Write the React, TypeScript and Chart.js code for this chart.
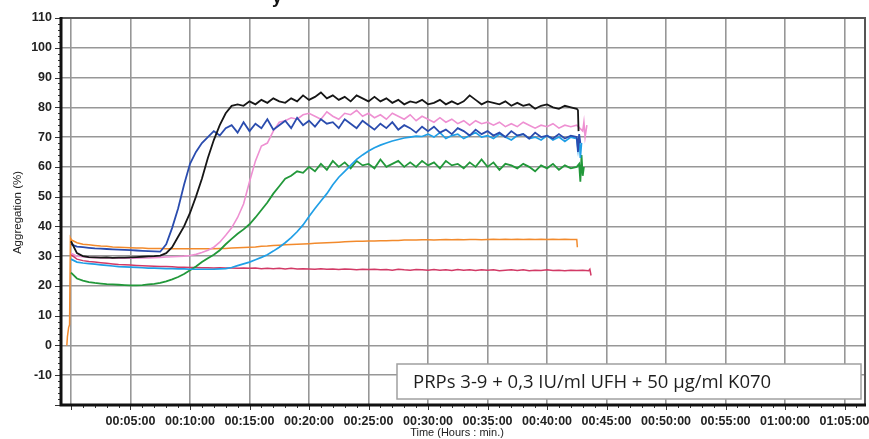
import React, { useEffect, useRef } from "react";
import { Chart, registerables } from "chart.js";

Chart.register(...registerables);

// time grid in minutes
const gridTimes = [
  0, 0.5, 1, 1.5, 2, 2.5, 3, 3.5, 4, 4.5,
  5, 5.5, 6, 6.5, 7, 7.5, 8, 8.5, 9, 9.5,
  10, 10.5, 11, 11.5, 12, 12.5, 13, 13.5, 14, 14.5,
  15, 15.5, 16, 16.5, 17, 17.5, 18, 18.5, 19, 19.5,
  20, 20.5, 21, 21.5, 22, 22.5, 23, 23.5, 24, 24.5,
  25, 25.5, 26, 26.5, 27, 27.5, 28, 28.5, 29, 29.5,
  30, 30.5, 31, 31.5, 32, 32.5, 33, 33.5, 34, 34.5,
  35, 35.5, 36, 36.5, 37, 37.5, 38, 38.5, 39, 39.5,
  40, 40.5, 41, 41.5, 42, 42.5,
];

const blackValues = [
  35, 31, 30, 29.7, 29.6, 29.5, 29.6, 29.4, 29.5, 29.5,
  29.6, 29.7, 29.8, 29.9, 30, 30.2, 31, 33, 36.5, 40,
  44.5, 50, 56, 63, 69, 74, 78, 80.5, 81, 80.5,
  82, 81, 82.5, 81.5, 83, 82, 81.5, 83, 82, 84,
  82.5, 83.5, 85, 83, 84, 82.5, 83.5, 82, 84, 83,
  82, 83.5, 82, 83, 81.5, 82.5, 81, 82, 81.5, 82.5,
  81, 81.5, 82.5, 81, 82, 81, 82, 84, 82.5, 81,
  82, 81.5, 81, 82, 80.5, 81.5, 80.5, 81, 79.5, 80.5,
  81, 80, 79.5, 80.5, 80, 79.5,
];
const blackTailTimes = [42.6, 42.65];
const blackTailValues = [79, 72];

const blueValues = [
  34, 33.2, 33, 32.8, 32.6, 32.5, 32.4, 32.3, 32.2, 32.1,
  32, 31.9, 31.8, 31.7, 31.6, 31.5, 34, 39.5, 46, 54,
  61, 65, 68, 70, 72, 70.5, 73, 74, 71.5, 75,
  72, 74.5, 73, 76, 72.5, 74, 75.5, 73, 76.5, 74,
  75.5, 73.5, 76, 74.5, 75, 73, 76, 74.5, 73, 75.5,
  74, 72.5, 74.5, 73, 75, 72.5, 74, 73, 71.5, 73.5,
  72, 73.5, 71.5, 72.5, 71, 73, 72, 70.5, 72.5, 71,
  72, 70.5, 71.5, 70, 72, 70.5, 71, 69.5, 71.5, 70,
  70.5, 69.5, 71, 69.5, 70.5, 70,
];
const blueTailTimes = [42.6, 42.7, 42.8];
const blueTailValues = [65, 71, 68];

const pinkValues = [
  31, 30, 29.8, 29.6, 29.5, 29.5, 29.4, 29.4, 29.3, 29.3,
  29.3, 29.3, 29.4, 29.4, 29.5, 29.6, 29.7, 29.8, 29.9, 30,
  30.2, 30.6, 31.2, 32, 33, 34.7, 37, 39.5, 43, 47.5,
  55, 62, 67, 68, 72, 75, 75.5, 76.5, 76, 77.5,
  78, 77, 76, 78.5, 77, 76, 78, 77.5, 79, 77,
  78, 76.5, 77.5, 76, 78, 77, 76, 77.5, 75.5, 77,
  76, 75, 76.5, 75, 76, 74.5, 75.5, 74, 75.5, 74.5,
  75, 74, 75, 73.5, 74.5, 73.5, 75, 74, 73, 74,
  73.5, 74.5, 73, 74, 73.5, 74,
];
const pinkTailTimes = [43, 43.1, 43.2, 43.35];
const pinkTailValues = [72, 75, 70, 74];

const cyanValues = [
  29, 28, 27.7, 27.5, 27.3, 27.1, 26.9, 26.7, 26.5, 26.4,
  26.3, 26.2, 26.1, 26, 26, 25.9, 25.8, 25.8, 25.7, 25.7,
  25.6, 25.6, 25.6, 25.6, 25.6, 25.7, 25.8, 26.2, 26.8, 27.4,
  28, 28.8, 29.6, 30.5, 31.7, 33, 34.5, 36.2, 38.2, 40.5,
  43.3, 46, 48.5, 51, 54, 56.5, 58.5, 60.5, 62.5, 64,
  65.3, 66.4, 67.3, 68, 68.7, 69.2, 69.7, 70, 70.3, 70.2,
  71, 70, 71.5, 69.5, 70.5, 71, 69.5, 70.5, 71.5, 70,
  70.5, 69.5, 71, 70, 69, 70.5, 71, 69.5, 70, 69,
  70.5, 69, 70, 68.5, 70, 69.5,
];
const cyanTailTimes = [42.6, 42.7, 42.8, 42.9];
const cyanTailValues = [66, 70, 63, 68];

const greenValues = [
  24.5, 22.5, 21.8, 21.3, 21, 20.8, 20.6, 20.5, 20.4, 20.3,
  20.2, 20.2, 20.3, 20.5, 20.7, 21, 21.5, 22.2, 23, 24,
  25.3, 26.5, 28, 29.3, 30.5, 32, 34, 35.8, 37.5, 39,
  40.7, 43, 45.5, 48, 51, 53.5, 56, 57, 58.5, 58,
  60, 58.5, 61, 59, 62, 60, 61.5, 59.5, 62, 60.5,
  61, 59.5, 62.5, 60, 61, 62, 60, 61.5, 60, 62,
  60.5, 61.5, 59.5, 62, 60.5, 61, 59.5, 61.5, 60, 62.5,
  60, 61.5, 59, 61, 60.5, 59.5, 61, 60, 58.5, 60.5,
  59.5, 61, 59, 60.5, 59.5, 60,
];
const greenTailTimes = [42.7, 42.8, 42.9, 43.0, 43.1];
const greenTailValues = [61, 55, 64, 57, 60];

const orangeHeadTimes = [-0.35, -0.3, -0.2, -0.12, -0.05];
const orangeHeadValues = [0, 3, 6, 7, 36];
const orangeValues = [
  35.5, 34.5, 34, 33.8, 33.6, 33.4, 33.3, 33.1, 33, 32.9,
  32.8, 32.7, 32.7, 32.6, 32.6, 32.6, 32.5, 32.5, 32.5, 32.5,
  32.5, 32.5, 32.5, 32.5, 32.5, 32.6, 32.6, 32.7, 32.8, 32.9,
  33, 33.1, 33.3, 33.4, 33.6, 33.7, 33.8, 33.9, 34, 34.1,
  34.2, 34.3, 34.4, 34.5, 34.6, 34.7, 34.8, 34.9, 35, 35,
  35.1, 35.1, 35.2, 35.2, 35.3, 35.3, 35.4, 35.4, 35.4, 35.5,
  35.5, 35.4, 35.5, 35.6, 35.5, 35.6, 35.5, 35.6, 35.6, 35.5,
  35.6, 35.7, 35.6, 35.7, 35.6, 35.7, 35.6, 35.7, 35.6, 35.7,
  35.6, 35.7, 35.6, 35.7, 35.6, 35.6,
];
const orangeTailTimes = [42.55];
const orangeTailValues = [33];

const redValues = [
  30.5, 29, 28.5, 28.2, 28, 27.8, 27.6, 27.4, 27.2, 27.1,
  27, 26.9, 26.8, 26.7, 26.6, 26.5, 26.5, 26.4, 26.3, 26.3,
  26.2, 26.2, 26.1, 26.1, 26, 26.1, 26, 26, 25.9, 26,
  25.9, 26, 25.8, 25.9, 25.8, 25.9, 25.7, 25.9, 25.7, 25.8,
  25.7, 25.6, 25.8, 25.6, 25.7, 25.5, 25.7, 25.6, 25.4, 25.6,
  25.5, 25.6, 25.4, 25.5, 25.3, 25.6, 25.4, 25.3, 25.5, 25.4,
  25.3, 25.5, 25.3, 25.4, 25.2, 25.5, 25.3, 25.4, 25.2, 25.4,
  25.3, 25.4, 25.1, 25.3, 25.4, 25.2, 25.4, 25.1, 25.3, 25.2,
  25.4, 25.2, 25.3, 25.1, 25.3, 25.2,
];
const redTailTimes = [43, 43.5, 43.6, 43.7];
const redTailValues = [25.3, 25.1, 25.6, 23.5];

const xTickMinutes = [0, 5, 10, 15, 20, 25, 30, 35, 40, 45, 50, 55, 60, 65];
const yTickValues = [-20, -10, 0, 10, 20, 30, 40, 50, 60, 70, 80, 90, 100, 110];

const legendText = "PRPs 3-9 + 0,3 IU/ml UFH + 50 µg/ml K070";
const yTitle = "Aggregation (%)";
const xTitle = "Time (Hours : min.)";

const X_MIN = -0.84;
const X_MAX = 66.72;
const Y_MIN = -20;
const Y_MAX = 110;

function fmtTime(m: number): string {
  if (m === 0) return "";
  const h = Math.floor(m / 60);
  const mm = m % 60;
  return `${String(h).padStart(2, "0")}:${String(mm).padStart(2, "0")}:00`;
}

function buildPoints(
  times: number[],
  values: number[],
  headT: number[] = [],
  headV: number[] = [],
  tailT: number[] = [],
  tailV: number[] = []
) {
  const pts: { x: number; y: number }[] = [];
  headT.forEach((t, i) => pts.push({ x: t, y: headV[i] }));
  const n = Math.min(times.length, values.length);
  for (let i = 0; i < n; i++) pts.push({ x: times[i], y: values[i] });
  tailT.forEach((t, i) => pts.push({ x: t, y: tailV[i] }));
  return pts;
}

const decorPlugin = {
  id: "decor",
  afterDatasetsDraw(chart: any) {
    const { ctx, chartArea, scales } = chart;
    const { left, right, top, bottom } = chartArea;
    const xs = scales.x;
    const ys = scales.y;
    ctx.save();

    // minor ticks on y axis
    ctx.strokeStyle = "#333";
    ctx.lineWidth = 1;
    for (let v = Y_MIN; v <= Y_MAX; v += 2) {
      const py = Math.round(ys.getPixelForValue(v)) + 0.5;
      const len = v % 10 === 0 ? 6 : 3;
      ctx.beginPath();
      ctx.moveTo(left - len, py);
      ctx.lineTo(left, py);
      ctx.stroke();
    }
    // minor ticks on x axis
    for (let m = 0; m <= 66; m += 1) {
      const px = Math.round(xs.getPixelForValue(m)) + 0.5;
      const len = m % 5 === 0 ? 5 : 3;
      ctx.beginPath();
      ctx.moveTo(px, bottom);
      ctx.lineTo(px, bottom + len);
      ctx.stroke();
    }

    // frame
    ctx.strokeStyle = "#555";
    ctx.lineWidth = 2;
    ctx.beginPath();
    ctx.moveTo(left, top);
    ctx.lineTo(right, top);
    ctx.lineTo(right, bottom);
    ctx.stroke();
    ctx.strokeStyle = "#111";
    ctx.lineWidth = 3;
    ctx.beginPath();
    ctx.moveTo(left, top - 1);
    ctx.lineTo(left, bottom);
    ctx.lineTo(right + 1, bottom);
    ctx.stroke();

    // legend box
    const bx = right - 468;
    const by = bottom - 41;
    const bw = 464;
    const bh = 35;
    ctx.fillStyle = "#ffffff";
    ctx.fillRect(bx, by, bw, bh);
    ctx.strokeStyle = "#a0a0a0";
    ctx.lineWidth = 1.5;
    ctx.strokeRect(bx, by, bw, bh);
    ctx.fillStyle = "#1e1e1e";
    ctx.font = "18.5px 'Open Sans', 'Noto Sans', sans-serif";
    ctx.textAlign = "left";
    ctx.textBaseline = "middle";
    ctx.fillText(legendText, bx + 16, by + bh / 2 + 1);

    // axis titles
    ctx.fillStyle = "#222";
    ctx.font = "11px 'Liberation Sans', Arial, sans-serif";
    ctx.textAlign = "center";
    ctx.textBaseline = "middle";
    ctx.fillText(xTitle, (left + right) / 2 - 6, bottom + 28);
    ctx.save();
    ctx.translate(18, (top + bottom) / 2 + 1);
    ctx.rotate(-Math.PI / 2);
    ctx.font = "11.5px 'Liberation Sans', Arial, sans-serif";
    ctx.fillText(yTitle, 0, 0);
    ctx.restore();

    // cropped title fragment at top
    ctx.fillStyle = "#111";
    ctx.font = "bold 18px 'Liberation Sans', Arial, sans-serif";
    ctx.textAlign = "left";
    ctx.textBaseline = "alphabetic";
    ctx.fillText("y", 272, 3);

    ctx.restore();
  },
};

export default function App() {
  const canvasRef = useRef<HTMLCanvasElement | null>(null);

  useEffect(() => {
    if (!canvasRef.current) return;
    const lineDs = (label: string, color: string, width: number, data: any[]) => ({
      label,
      data,
      borderColor: color,
      backgroundColor: color,
      borderWidth: width,
      pointRadius: 0,
      tension: 0,
      fill: false,
    });
    const tickFont = { family: "Arial, 'Liberation Sans', sans-serif", size: 12.5, weight: "bold" as const };
    const chart = new Chart(canvasRef.current, {
      type: "line",
      data: {
        datasets: [
          lineDs("black", "#161616", 1.8, buildPoints(gridTimes, blackValues, [], [], blackTailTimes, blackTailValues)),
          lineDs("blue", "#2a4cae", 1.8, buildPoints(gridTimes, blueValues, [], [], blueTailTimes, blueTailValues)),
          lineDs("pink", "#ee90d2", 1.6, buildPoints(gridTimes, pinkValues, [], [], pinkTailTimes, pinkTailValues)),
          lineDs("cyan", "#209fe6", 1.7, buildPoints(gridTimes, cyanValues, [], [], cyanTailTimes, cyanTailValues)),
          lineDs("green", "#22983a", 1.8, buildPoints(gridTimes, greenValues, [], [], greenTailTimes, greenTailValues)),
          lineDs("orange", "#f28a2c", 1.5, buildPoints(gridTimes, orangeValues, orangeHeadTimes, orangeHeadValues, orangeTailTimes, orangeTailValues)),
          lineDs("red", "#d23a66", 1.5, buildPoints(gridTimes, redValues, [], [], redTailTimes, redTailValues)),
        ],
      },
      options: {
        animation: false,
        responsive: false,
        maintainAspectRatio: false,
        layout: { padding: { top: 18, right: 4, left: 0, bottom: 0 } },
        plugins: { legend: { display: false }, tooltip: { enabled: false }, title: { display: false } },
        scales: {
          x: {
            type: "linear",
            min: X_MIN,
            max: X_MAX,
            afterBuildTicks: (s: any) => {
              s.ticks = xTickMinutes.map((v) => ({ value: v }));
            },
            afterFit: (s: any) => {
              s.height = 34;
              s.paddingLeft = 0;
              s.paddingRight = 0;
            },
            grid: { color: "#979797", lineWidth: 1.6, drawTicks: false },
            border: { display: false },
            ticks: {
              callback: (v: any) => fmtTime(Number(v)),
              padding: 9,
              maxRotation: 0,
              autoSkip: false,
              color: "#222",
              font: tickFont,
            },
          },
          y: {
            min: Y_MIN,
            max: Y_MAX,
            afterBuildTicks: (s: any) => {
              s.ticks = yTickValues.map((v) => ({ value: v }));
            },
            afterFit: (s: any) => {
              s.width = 61;
              s.paddingTop = 0;
              s.paddingBottom = 0;
            },
            grid: { color: "#979797", lineWidth: 1.6, drawTicks: false },
            border: { display: false },
            ticks: {
              callback: (v: any) => (Number(v) === -20 ? "" : String(v)),
              padding: 9,
              autoSkip: false,
              color: "#222",
              font: tickFont,
            },
          },
        },
      },
      plugins: [decorPlugin],
    });
    return () => chart.destroy();
  }, []);

  return (
    <div style={{ position: "fixed", left: 0, top: 0, width: 869, height: 439, background: "#fff" }}>
      <canvas ref={canvasRef} width={869} height={439} style={{ width: 869, height: 439, display: "block" }} />
    </div>
  );
}
